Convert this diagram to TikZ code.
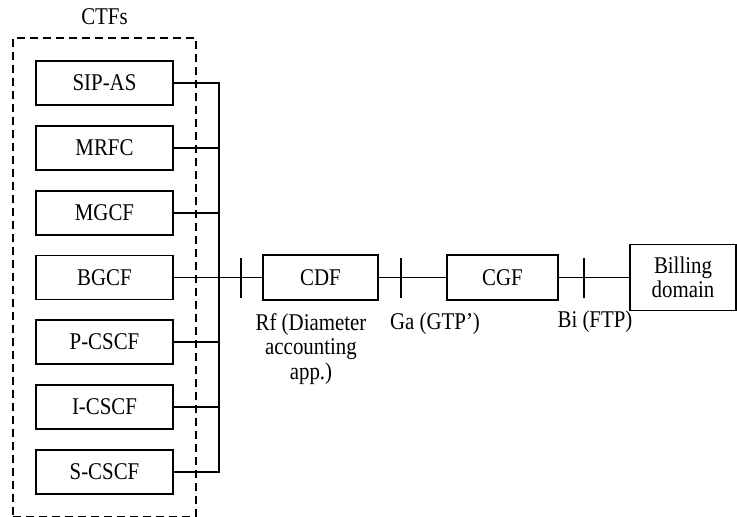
\documentclass[tikz,border=0pt]{standalone}
\usepackage{fontspec}
\setmainfont{Liberation Serif}[FakeStretch=0.87]
\usepackage{tikz}
\usetikzlibrary{positioning, fit}
\newcommand{\lblfont}{\fontsize{24}{24.5}\selectfont}

\begin{document}
\begin{tikzpicture}[
    x=1pt, y=-1pt,
    fnbox/.style={rectangle, draw, line width=1.6pt, inner sep=0pt,
                  minimum width=137pt, minimum height=44pt, font=\lblfont},
    cbox/.style={rectangle, draw, line width=1.6pt, inner sep=0pt,
                 minimum height=45pt, align=center, font=\lblfont},
    grp/.style={rectangle, draw, line width=1.6pt, dash pattern=on 8pt off 5pt,
                inner sep=22pt},
    conn/.style={line width=1.6pt},
    tick/.style={line width=1.8pt},
    iflbl/.style={font=\lblfont, align=center, inner sep=2pt, anchor=north}
]
\useasboundingbox (0,0) rectangle (737,517);

\node[fnbox] (sipas) at (104.5, 83)    {SIP-AS};
\node[fnbox] (mrfc)  at (104.5, 148)   {MRFC};
\node[fnbox] (mgcf)  at (104.5, 213)   {MGCF};
\node[fnbox] (bgcf)  at (104.5, 277.5) {BGCF};
\node[fnbox] (pcscf) at (104.5, 342)   {P-CSCF};
\node[fnbox] (icscf) at (104.5, 407)   {I-CSCF};
\node[fnbox] (scscf) at (104.5, 472)   {S-CSCF};

\node[grp, fit=(sipas) (scscf)] (ctfs) {};
\node[font=\lblfont, inner sep=2pt, above=10pt of ctfs] (ctfslbl) {CTFs};

\node[cbox, minimum width=115pt] (cdf)  at (320.5, 277.5) {CDF};
\node[cbox, minimum width=111pt] (cgf)  at (502.5, 277.5) {CGF};
\node[cbox, minimum width=106pt, minimum height=66pt] (bill) at (683, 277.5) {Billing\\domain};

\coordinate (bus) at (219, 0);
\coordinate (rf)  at (241, 277.5);
\coordinate (ga)  at (401, 277.5);
\coordinate (bi)  at (584, 277.5);

\draw[conn] (sipas.east) -- (sipas.east -| bus) -- (scscf.east -| bus) -- (scscf.east);
\draw[conn] (mrfc.east)  -- (mrfc.east -| bus);
\draw[conn] (mgcf.east)  -- (mgcf.east -| bus);
\draw[conn] (pcscf.east) -- (pcscf.east -| bus);
\draw[conn] (icscf.east) -- (icscf.east -| bus);
\draw[conn] (bgcf.east)  -- (cdf.west);
\draw[conn] (cdf.east)   -- (cgf.west);
\draw[conn] (cgf.east)   -- (bill.west);

\draw[tick] (rf) ++(0,-20) -- ++(0,40);
\draw[tick] (ga) ++(0,-20) -- ++(0,40);
\draw[tick] (bi) ++(0,-20) -- ++(0,40);

\node[iflbl] (rflbl) at (311, 311) {Rf (Diameter\\accounting\\app.)};
\node[iflbl] (galbl) at (435, 311) {Ga (GTP')};
\node[iflbl] (bilbl) at (595, 309) {Bi (FTP)};

\end{tikzpicture}
\end{document}
